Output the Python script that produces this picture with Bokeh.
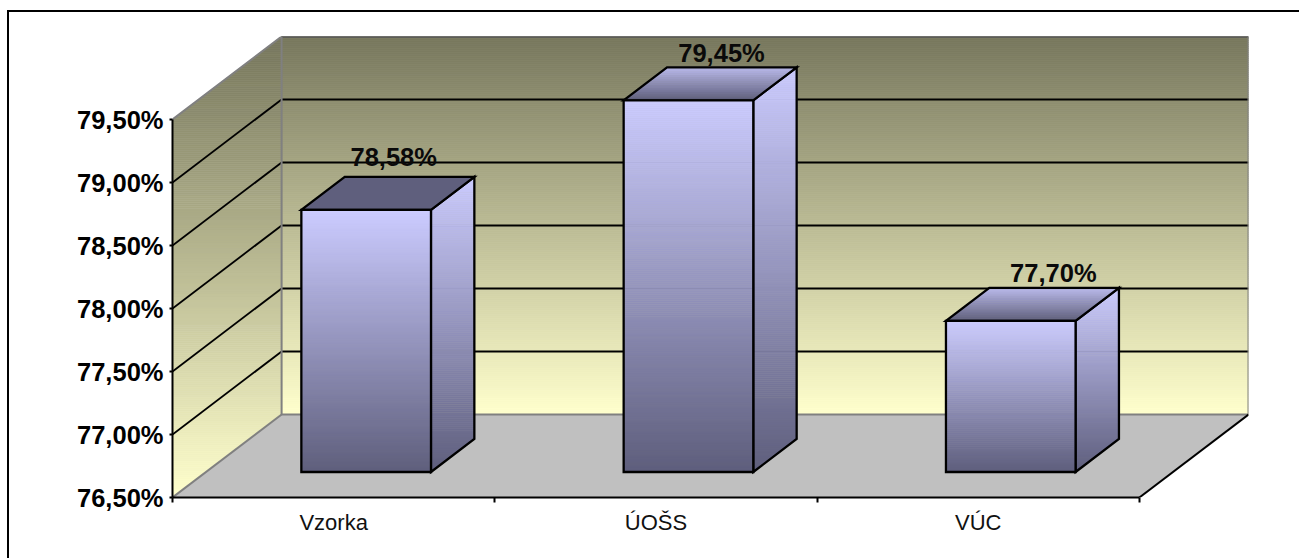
from bokeh.plotting import figure
from bokeh.models import Range1d, FixedTicker
from bokeh.core.properties import value
from bokeh.embed import file_html
from bokeh.resources import INLINE

categories = ["Vzorka", "ÚOŠS", "VÚC"]
values = [78.58, 79.45, 77.70]
value_labels = ["78,58%", "79,45%", "77,70%"]
tick_values = [76.5, 77.0, 77.5, 78.0, 78.5, 79.0, 79.5]
tick_labels = ["76,50%", "77,00%", "77,50%", "78,00%", "78,50%", "79,00%", "79,50%"]

Y_MIN, Y_MAX = tick_values[0], tick_values[-1]
PX_X = 322.0      # pixels per category
PX_Y = 126.0      # pixels per percentage point
DX = 109.0 / PX_X   # full depth, x
DY = 83.0 / PX_Y    # full depth, y
D0, D1 = 25.5 / 83, 58.5 / 83   # bar front/back depth
BAR_W = 129.5 / PX_X
BAR_SHIFT = -1.0 / PX_X
LABEL_DX = [27.5, 33, 42.5]
LABEL_DY = [52.5, 47, 48]

W, H = 1299, 558
p = figure(width=W, height=H, output_backend="svg", toolbar_location=None,
           x_range=Range1d(0, 3 + DX), y_range=Range1d(Y_MIN, Y_MAX + DY),
           min_border_left=172, min_border_right=51, min_border_top=36, min_border_bottom=61)
p.outline_line_color = None
p.grid.visible = False
p.background_fill_color = "white"
p.border_fill_color = None
# chart-area border (runs off the page at the right and bottom)
p.styles = {"background": "linear-gradient(black,black) 7px 10px/1292px 2.3px no-repeat, "
                          "linear-gradient(black,black) 7px 10px/2.3px 548px no-repeat"}


def hex2rgb(c):
    return [int(c[i:i + 2], 16) for i in (1, 3, 5)]


def mix(c0, c1, t):
    a, b = hex2rgb(c0), hex2rgb(c1)
    return "#%02x%02x%02x" % tuple(round(a[i] + (b[i] - a[i]) * t) for i in range(3))


def clip(poly, y, keep_above):
    out = []
    n = len(poly)
    for i in range(n):
        a, b = poly[i], poly[(i + 1) % n]
        ina = a[1] >= y if keep_above else a[1] <= y
        inb = b[1] >= y if keep_above else b[1] <= y
        if ina:
            out.append(a)
        if ina != inb:
            t = (y - a[1]) / (b[1] - a[1])
            out.append((a[0] + (b[0] - a[0]) * t, y))
    return out


def gradient(poly, top_color, bottom_color, ytop=None, ybot=None, step=2.0):
    ys = [q[1] for q in poly]
    ytop = max(ys) if ytop is None else ytop
    ybot = min(ys) if ybot is None else ybot
    lo, hi = min(ys), max(ys)
    n = max(1, int(round((hi - lo) * PX_Y / step)))
    xs_all, ys_all, cols = [], [], []
    for k in range(n):
        y1 = hi - (hi - lo) * k / n
        y0 = hi - (hi - lo) * (k + 1) / n
        band = clip(clip(poly, y1, False), y0, True)
        if len(band) < 3:
            continue
        xs_all.append([q[0] for q in band])
        ys_all.append([q[1] for q in band])
        t = (ytop - (y0 + y1) / 2) / (ytop - ybot)
        cols.append(mix(top_color, bottom_color, max(0, min(1, t))))
    p.patches(xs_all, ys_all, fill_color=cols, line_color=cols, line_width=0.7)


def outline(poly, color="black", width=2.3):
    p.patch([q[0] for q in poly], [q[1] for q in poly], fill_color=None,
            line_color=color, line_width=width, line_join="miter")


WALL_TOP, WALL_BOT = "#76765c", "#ffffcc"
GREY = "#808080"
x_end = float(len(categories))

# floor
p.patch([0, DX, x_end + DX, x_end], [Y_MIN, Y_MIN + DY, Y_MIN + DY, Y_MIN],
        fill_color="#c0c0c0", line_color=None)
# back wall
back = [(DX, Y_MIN + DY), (x_end + DX, Y_MIN + DY), (x_end + DX, Y_MAX + DY), (DX, Y_MAX + DY)]
gradient(back, WALL_TOP, WALL_BOT)
# side wall
side = [(0, Y_MIN), (DX, Y_MIN + DY), (DX, Y_MAX + DY), (0, Y_MAX)]
gradient(side, WALL_TOP, WALL_BOT, ytop=Y_MAX + DY, ybot=Y_MIN)

# grid lines
for v in tick_values[1:]:
    p.line([DX, x_end + DX], [v + DY, v + DY], line_color="black", line_width=1.8)
for v in tick_values[1:-1]:
    p.line([0, DX], [v, v + DY], line_color="black", line_width=1.8)

# wall edges
p.line([0, DX, x_end + DX, x_end + DX, DX, DX],
       [Y_MAX, Y_MAX + DY, Y_MAX + DY, Y_MIN + DY, Y_MIN + DY, Y_MAX + DY],
       line_color=GREY, line_width=2)
p.line([0, DX], [Y_MIN, Y_MIN + DY], line_color=GREY, line_width=2)
p.line([x_end, x_end + DX], [Y_MIN, Y_MIN + DY], line_color="black", line_width=2)

# bars
BAR_TOP, BAR_BOT = "#ccccff", "#5f5f7d"
for i, v in enumerate(values):
    c = i + 0.5 + D0 * DX + BAR_SHIFT
    xl, xr = c - BAR_W / 2, c + BAR_W / 2
    b0 = Y_MIN + D0 * DY
    t0 = v + D0 * DY
    ddx = (D1 - D0) * DX
    ddy = (D1 - D0) * DY
    front = [(xl, b0), (xr, b0), (xr, t0), (xl, t0)]
    right = [(xr, b0), (xr + ddx, b0 + ddy), (xr + ddx, t0 + ddy), (xr, t0)]
    top = [(xl, t0), (xr, t0), (xr + ddx, t0 + ddy), (xl + ddx, t0 + ddy)]
    gradient(right, BAR_TOP, BAR_BOT)
    outline(right)
    if i == 0:
        p.patch([q[0] for q in top], [q[1] for q in top], fill_color=BAR_BOT, line_color=None)
    else:
        gradient(top, "#bcbcec", BAR_BOT)
    outline(top)
    gradient(front, BAR_TOP, BAR_BOT)
    outline(front)

# value labels
lx = [i + 0.5 + D0 * DX + BAR_SHIFT + LABEL_DX[i] / PX_X for i in range(3)]
ly = [values[i] + D0 * DY + LABEL_DY[i] / PX_Y for i in range(3)]
p.text(lx, ly, text=value_labels, text_font=value("Liberation Sans"), text_font_style="bold",
       text_font_size="25.5px", text_align="center", text_baseline="middle", text_color="#0a0a0a")

# axes
ya = p.yaxis[0]
ya.ticker = FixedTicker(ticks=tick_values)
ya.major_label_overrides = dict(zip(tick_values, tick_labels))
ya.bounds = (Y_MIN, Y_MAX)
ya.axis_line_color = "black"
ya.axis_line_width = 2
ya.major_tick_line_color = "black"
ya.major_tick_line_width = 2
ya.major_tick_out = 3
ya.major_tick_in = 0
ya.minor_tick_out = 0
ya.minor_tick_in = 0
ya.major_label_standoff = 6
ya.major_label_text_font = "Liberation Sans"
ya.major_label_text_font_style = "bold"
ya.major_label_text_font_size = "25.5px"
ya.major_label_text_color = "black"

xa = p.xaxis[0]
xa.ticker = FixedTicker(ticks=[i + 0.5 for i in range(3)], minor_ticks=[0, 1, 2, 3])
xa.major_label_overrides = {i + 0.5: c for i, c in enumerate(categories)}
xa.bounds = (0, 3)
xa.axis_line_color = "black"
xa.axis_line_width = 2
xa.major_tick_out = 0
xa.major_tick_in = 0
xa.minor_tick_line_color = "black"
xa.minor_tick_line_width = 2
xa.minor_tick_out = 5
xa.minor_tick_in = 0
xa.major_label_standoff = 7
xa.major_label_text_font = "Liberation Sans"
xa.major_label_text_font_size = "22px"
xa.major_label_text_color = "#111111"

open("out.html", "w").write(file_html(p, INLINE))
